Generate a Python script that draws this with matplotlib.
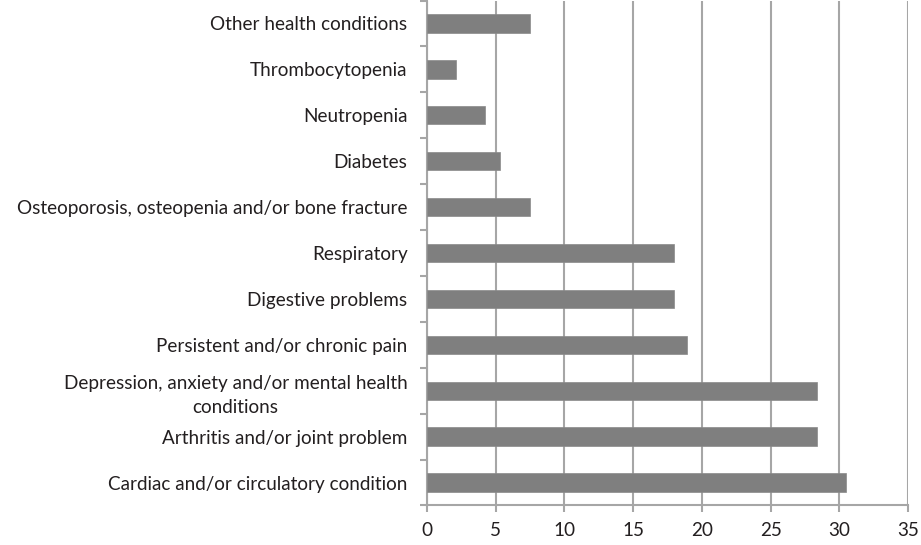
import matplotlib.pyplot as plt
import numpy as np

categories = [
    "Cardiac and/or circulatory condition",
    "Arthritis and/or joint problem",
    "Depression, anxiety and/or mental health\nconditions",
    "Persistent and/or chronic pain",
    "Digestive problems",
    "Respiratory",
    "Osteoporosis, osteopenia and/or bone fracture",
    "Diabetes",
    "Neutropenia",
    "Thrombocytopenia",
    "Other health conditions",
]
values = [30.5, 28.4, 28.4, 18.9, 18.0, 18.0, 7.5, 5.3, 4.2, 2.1, 7.5]

plt.rcParams['font.family'] = ['Lato', 'DejaVu Sans']

fig = plt.figure(figsize=(9.21, 5.45), dpi=100)
ax = fig.add_axes([0.4636, 0.0725, 0.5225, 0.9265])

y = np.arange(len(categories))
ax.barh(y, values, height=0.4, color="#7f7f7f", edgecolor="#8a8a8a", linewidth=0.5, zorder=3)

ax.set_xlim(0, 35)
ax.set_ylim(-0.5, len(categories) - 0.5)
ax.set_xticks(np.arange(0, 36, 5))
ax.set_yticks(y)
ax.set_yticklabels(categories, multialignment="center", linespacing=1.45)
ax.set_yticks(np.arange(-0.5, len(categories), 1), minor=True)

ax.grid(axis="x", color="#a6a6a6", linewidth=1.5, zorder=0)

for s in ["top", "right"]:
    ax.spines[s].set_visible(False)
for s in ["left", "bottom"]:
    ax.spines[s].set_color("#a6a6a6")
    ax.spines[s].set_linewidth(1.5)

ax.tick_params(axis="y", which="major", length=0, pad=14, labelsize=13.6, colors="#231f20")
ax.tick_params(axis="y", which="minor", length=5, width=1.5, color="#a6a6a6")
ax.tick_params(axis="x", length=5, width=1.5, color="#a6a6a6", labelsize=13.6, labelcolor="#231f20", pad=7)

fig.savefig("out.png", dpi=100)
